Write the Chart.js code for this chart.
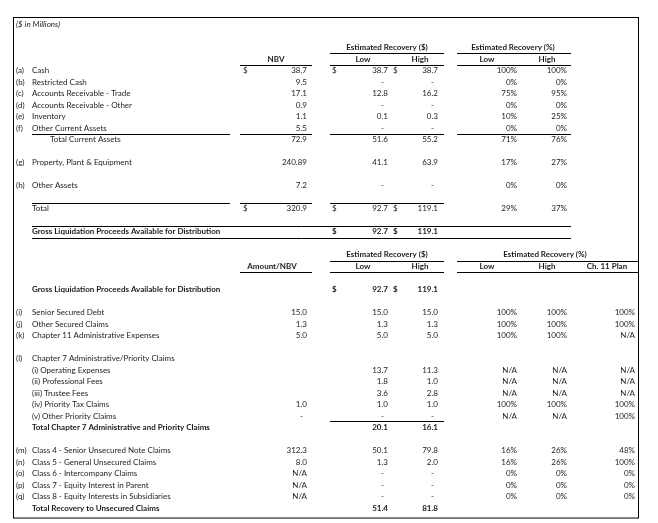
<!DOCTYPE html>
<html>
<head>
<meta charset="utf-8">
<script src="https://cdn.jsdelivr.net/npm/chart.js@4.4.0/dist/chart.umd.min.js"></script>
<style>
html, body { margin: 0; padding: 0; background: #fff; }
canvas { display: block; }
</style>
</head>
<body>
<canvas id="recoveryTable" width="658" height="523"></canvas>
<script>
// ---- Liquidation analysis: assets section ----
const assetRows = [4, 5, 6, 7, 8, 9, 10, 12, 14, 16, 18];
const assetLetters = ['(a)', '(b)', '(c)', '(d)', '(e)', '(f)', '', '(g)', '(h)', '', ''];
const assetLabels = [
    'Cash', 'Restricted Cash', 'Accounts Receivable - Trade', 'Accounts Receivable - Other',
    'Inventory', 'Other Current Assets', 'Total Current Assets', 'Property, Plant & Equipment',
    'Other Assets', 'Total', 'Gross Liquidation Proceeds Available for Distribution'
];
const assetNbv = [38.7, 9.5, 17.1, 0.9, 1.1, 5.5, 72.9, 240.89, 7.2, 320.9, null];
const assetLow = [38.7, 0, 12.8, 0, 0.1, 0, 51.6, 41.1, 0, 92.7, 92.7];
const assetHigh = [38.7, 0, 16.2, 0, 0.3, 0, 55.2, 63.9, 0, 119.1, 119.1];
const assetPctLow = [100, 0, 75, 0, 10, 0, 71, 17, 0, 29, null];
const assetPctHigh = [100, 0, 95, 0, 25, 0, 76, 27, 0, 37, null];
const assetDollar = [true, false, false, false, false, false, false, false, false, true, true];
const assetBold = [false, false, false, false, false, false, false, false, false, false, true];
const assetIndent = [false, false, false, false, false, false, true, false, false, false, false];

// ---- Claims section ----
const claimRows = [23, 25, 26, 27, 29, 30, 31, 32, 33, 34, 35, 37, 38, 39, 40, 41, 42];
const claimLetters = ['', '(i)', '(j)', '(k)', '(l)', '', '', '', '', '', '', '(m)', '(n)', '(o)', '(p)', '(q)', ''];
const claimLabels = [
    'Gross Liquidation Proceeds Available for Distribution',
    'Senior Secured Debt', 'Other Secured Claims', 'Chapter 11 Administrative Expenses',
    'Chapter 7 Administrative/Priority Claims', '(i) Operating Expenses', '(ii) Professional Fees',
    '(iii) Trustee Fees', '(iv) Priority Tax Claims', '(v) Other Priority Claims',
    'Total Chapter 7 Administrative and Priority Claims',
    'Class 4 - Senior Unsecured Note Claims', 'Class 5 - General Unsecured Claims',
    'Class 6 - Intercompany Claims', 'Class 7 - Equity Interest in Parent',
    'Class 8 - Equity Interests in Subsidiaries', 'Total Recovery to Unsecured Claims'
];
const claimAmount = [null, 15.0, 1.3, 5.0, null, null, null, null, 1.0, 0, null, 312.3, 8.0, 'N/A', 'N/A', 'N/A', null];
const claimLow = [92.7, 15.0, 1.3, 5.0, null, 13.7, 1.8, 3.6, 1.0, 0, 20.1, 50.1, 1.3, 0, 0, 0, 51.4];
const claimHigh = [119.1, 15.0, 1.3, 5.0, null, 11.3, 1.0, 2.8, 1.0, 0, 16.1, 79.8, 2.0, 0, 0, 0, 81.8];
const claimPctLow = [null, 100, 100, 100, null, 'N/A', 'N/A', 'N/A', 100, 'N/A', null, 16, 16, 0, 0, 0, null];
const claimPctHigh = [null, 100, 100, 100, null, 'N/A', 'N/A', 'N/A', 100, 'N/A', null, 26, 26, 0, 0, 0, null];
const claimPctPlan = [null, 100, 100, 'N/A', null, 'N/A', 'N/A', 'N/A', 100, 100, null, 48, 100, 0, 0, 0, null];
const claimDollar = [true, false, false, false, false, false, false, false, false, false, false, false, false, false, false, false, false];
const claimBold = [true, false, false, false, false, false, false, false, false, false, true, false, false, false, false, false, true];

// ---- layout (x in page pixels, y in row units) ----
const col = {
    letter: 16, label: 32, indent: 50,
    nbvDollar: 243, nbv: 307,
    lowDollar: 332, low: 388, highDollar: 393, high: 438,
    pctLow: 517, pctHigh: 567, plan: 635
};
const FONT = 'Lato, "Open Sans", sans-serif';
const FONT_SIZE = 8;
const INK = '#1c1c1c';

function fmtAmount(v) {
    if (v === null || v === undefined) return '';
    if (typeof v === 'string') return v;
    if (v === 0) return '-';
    const s = String(v);
    const d = s.includes('.') ? s.split('.')[1].length : 0;
    return v.toFixed(Math.max(1, d));
}

function fmtPct(v) {
    if (v === null || v === undefined) return '';
    if (typeof v === 'string') return v;
    return v + '%';
}

const tablePlugin = {
    id: 'recoveryTable',
    afterDraw(chart) {
        const { ctx, scales: { x, y } } = chart;
        const px = v => x.getPixelForValue(v);
        const py = r => y.getPixelForValue(r);

        function text(str, cx, row, align, bold, italic) {
            if (!str) return;
            ctx.font = (italic ? 'italic ' : '') + (bold ? 'bold ' : '') + FONT_SIZE + 'px ' + FONT;
            ctx.textAlign = align;
            ctx.textBaseline = 'middle';
            ctx.fillStyle = INK;
            ctx.fillText(str, px(cx), py(row) + 0.5);
        }
        function num(str, right, row, bold) {
            // accounting-style dash sits a little left of the digits
            if (str === '-') text(str, right - 4, row, 'right', bold);
            else text(str, right, row, 'right', bold);
        }
        function rule(row, x0, x1) {
            ctx.beginPath();
            ctx.strokeStyle = '#000';
            ctx.lineWidth = 1;
            const yy = Math.round(py(row)) + 0.5;
            ctx.moveTo(px(x0), yy);
            ctx.lineTo(px(x1), yy);
            ctx.stroke();
        }

        ctx.save();

        // frame
        ctx.strokeStyle = '#000';
        ctx.lineWidth = 1;
        ctx.strokeRect(Math.round(px(13)) + 0.5, Math.round(py(-0.65)) + 0.5,
            px(638) - px(13), py(42.8) - py(-0.65));

        text('($ in Millions)', 16, 0, 'left', false, true);

        // headers, assets section
        text('Estimated Recovery ($)', 387, 2, 'center', true);
        text('Estimated Recovery (%)', 513, 2, 'center', true);
        text('NBV', 276, 3, 'center', true);
        text('Low', 363, 3, 'center', true);
        text('High', 420, 3, 'center', true);
        text('Low', 487, 3, 'center', true);
        text('High', 547, 3, 'center', true);
        rule(2.55, 330, 444);
        rule(2.55, 457, 571);
        rule(3.55, 240, 312);
        rule(3.55, 330, 444);
        rule(3.55, 457, 571);

        assetRows.forEach((r, i) => {
            const b = assetBold[i];
            text(assetLetters[i], col.letter, r, 'left', b);
            text(assetLabels[i], assetIndent[i] ? col.indent : col.label, r, 'left', b);
            if (assetDollar[i] && assetNbv[i] !== null) text('$', col.nbvDollar, r, 'left', b);
            if (assetDollar[i]) {
                text('$', col.lowDollar, r, 'left', b);
                text('$', col.highDollar, r, 'left', b);
            }
            num(fmtAmount(assetNbv[i]), col.nbv, r, b);
            num(fmtAmount(assetLow[i]), col.low, r, b);
            num(fmtAmount(assetHigh[i]), col.high, r, b);
            text(fmtPct(assetPctLow[i]), col.pctLow, r, 'right', b);
            text(fmtPct(assetPctHigh[i]), col.pctHigh, r, 'right', b);
        });
        rule(9.55, 32, 230);
        rule(9.55, 240, 312);
        rule(9.55, 330, 444);
        rule(9.55, 457, 571);
        rule(15.55, 32, 230);
        rule(15.55, 240, 312);
        rule(15.55, 330, 444);
        rule(17.55, 32, 571);
        rule(18.6, 32, 571);

        // headers, claims section
        text('Estimated Recovery ($)', 387, 20, 'center', true);
        text('Estimated Recovery (%)', 545, 20, 'center', true);
        text('Amount/NBV', 272, 21, 'center', true);
        text('Low', 363, 21, 'center', true);
        text('High', 420, 21, 'center', true);
        text('Low', 487, 21, 'center', true);
        text('High', 547, 21, 'center', true);
        text('Ch. 11 Plan', 607, 21, 'center', true);
        rule(20.55, 330, 444);
        rule(20.55, 457, 638);
        rule(21.55, 240, 312);
        rule(21.55, 330, 444);
        rule(21.55, 457, 638);

        claimRows.forEach((r, i) => {
            const b = claimBold[i];
            text(claimLetters[i], col.letter, r, 'left', b);
            text(claimLabels[i], col.label, r, 'left', b);
            if (claimDollar[i]) {
                text('$', col.lowDollar, r, 'left', b);
                text('$', col.highDollar, r, 'left', b);
            }
            num(fmtAmount(claimAmount[i]), col.nbv, r, b);
            num(fmtAmount(claimLow[i]), col.low, r, b);
            num(fmtAmount(claimHigh[i]), col.high, r, b);
            text(fmtPct(claimPctLow[i]), col.pctLow, r, 'right', b);
            text(fmtPct(claimPctHigh[i]), col.pctHigh, r, 'right', b);
            text(fmtPct(claimPctPlan[i]), col.plan, r, 'right', b);
        });
        rule(34.45, 330, 444);

        ctx.restore();
    }
};

// row pitch ~11.5px; row 0 sits at y=24
const ROW_PX = 11.52;
const yMin = -24 / ROW_PX;
const yMax = yMin + 523 / ROW_PX;

new Chart(document.getElementById('recoveryTable'), {
    type: 'scatter',
    data: { datasets: [] },
    options: {
        responsive: false,
        animation: false,
        layout: { padding: 0 },
        plugins: { legend: { display: false }, tooltip: { enabled: false } },
        scales: {
            x: { type: 'linear', min: 0, max: 658, display: false },
            y: { type: 'linear', min: yMin, max: yMax, reverse: true, display: false }
        }
    },
    plugins: [tablePlugin]
});
</script>
</body>
</html>
